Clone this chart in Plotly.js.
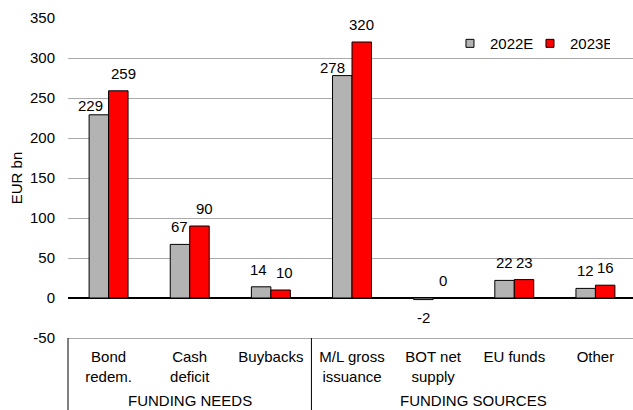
<!DOCTYPE html>
<html>
<head>
<meta charset="utf-8">
<script src="https://cdn.plot.ly/plotly-3.0.1.min.js"></script>
<style>html,body{margin:0;padding:0;overflow:hidden;background:#fff;}</style>
</head>
<body>
<div id="chart"></div>
<script>
const groups = ["FUNDING NEEDS","FUNDING NEEDS","FUNDING NEEDS","FUNDING SOURCES","FUNDING SOURCES","FUNDING SOURCES","FUNDING SOURCES"];
const categories = ["Bond<br>redem.","Cash<br>deficit","Buybacks","M/L gross<br>issuance","BOT net<br>supply","EU funds","Other"];
const values2022 = [229, 67, 14, 278, -2, 22, 12];
const values2023 = [259, 90, 10, 320, 0, 23, 16];
const seriesNames = ["2022E", "2023E"];
const yTickValues = [-50, 0, 50, 100, 150, 200, 250, 300, 350];
const yTickLabels = ["-50", "0", "50", "100", "150", "200", "250", "300", "350"];
const colors = ["#b3b3b3", "#ff0000"];

const font = {family: "Arial, 'Liberation Sans', sans-serif", size: 15, color: "#000"};
const BARGAP = 0.52;
const LABEL_GAP = 7;
// manual label nudges (px) as placed in the original chart: [series][category] -> [dx, dy]
const labelNudge = {"0-0": [-8, -8], "0-3": [-10, -9], "1-0": [5, 0], "1-1": [5, 0], "0-2": [-3, 0], "1-2": [4, 0]};

function barTrace(vals, i) {
  return {
    type: "bar", x: categories, y: vals, name: seriesNames[i], showlegend: false,
    marker: {color: colors[i], line: {color: "#000", width: 1}},
    hoverinfo: "skip"
  };
}
function legendTrace(i) {
  return {
    type: "scatter", mode: "markers", x: [null], y: [null], name: seriesNames[i],
    marker: {symbol: "square", size: 8, color: colors[i], line: {color: "#000", width: 1}},
    hoverinfo: "skip"
  };
}

const series = [values2022, values2023];
const data = [barTrace(values2022, 0), barTrace(values2023, 1), legendTrace(0), legendTrace(1)];

const annotations = [];
// data labels at bar ends (category index +/- half bar width)
const halfBar = (1 - BARGAP) / 4;
series.forEach((vals, i) => {
  vals.forEach((v, j) => {
    const nudge = labelNudge[i + "-" + j] || [0, 0];
    const up = v >= 0;
    annotations.push({
      text: String(v), xref: "x", x: j + (i === 0 ? -halfBar : halfBar), yref: "y", y: v,
      xanchor: "center", yanchor: up ? "bottom" : "top",
      xshift: nudge[0], yshift: (up ? LABEL_GAP : -LABEL_GAP) + nudge[1],
      showarrow: false, font: font
    });
  });
});

// group labels and dividers derived from the groups array
const n = categories.length;
const groupNames = [...new Set(groups)];
const shapes = [];
groupNames.forEach(g => {
  const first = groups.indexOf(g);
  const last = groups.lastIndexOf(g);
  annotations.push({
    text: g, xref: "paper", x: ((first + last + 1) / 2) / n, xanchor: "center",
    yref: "paper", y: -0.195, yanchor: "middle", showarrow: false, font: font
  });
  shapes.push({
    type: "line", xref: "paper", x0: first / n, x1: first / n,
    yref: "paper", y0: 0, y1: -0.4, line: {color: "#000", width: 1}
  });
});

const layout = {
  width: 636, height: 410,
  margin: {l: 68, r: 0, t: 18, b: 72, pad: 0},
  paper_bgcolor: "#fff", plot_bgcolor: "#fff",
  font: font,
  barmode: "group", bargap: BARGAP, bargroupgap: 0,
  showlegend: true,
  legend: {orientation: "h", x: 0.6725, xanchor: "left", y: 0.92, yanchor: "middle",
           font: font, bgcolor: "rgba(0,0,0,0)", itemwidth: 30, tracegroupgap: 0,
           entrywidth: 35, entrywidthmode: "pixels"},
  annotations: annotations,
  shapes: shapes,
  xaxis: {
    type: "category", showgrid: false, ticks: "",
    showline: true, linecolor: "#aaaaaa", linewidth: 1,
    ticklabelstandoff: 5, tickfont: font, fixedrange: true
  },
  yaxis: {
    range: [-50, 350], tickvals: yTickValues, ticktext: yTickLabels,
    showgrid: true, gridcolor: "#aaaaaa", gridwidth: 1,
    zeroline: true, zerolinecolor: "#000", zerolinewidth: 1.5,
    showline: false, ticks: "", ticklabelstandoff: 12, tickfont: font,
    title: {text: "EUR bn", font: font, standoff: 3}, fixedrange: true
  }
};

Plotly.newPlot("chart", data, layout, {displayModeBar: false, staticPlot: true});
</script>
</body>
</html>
